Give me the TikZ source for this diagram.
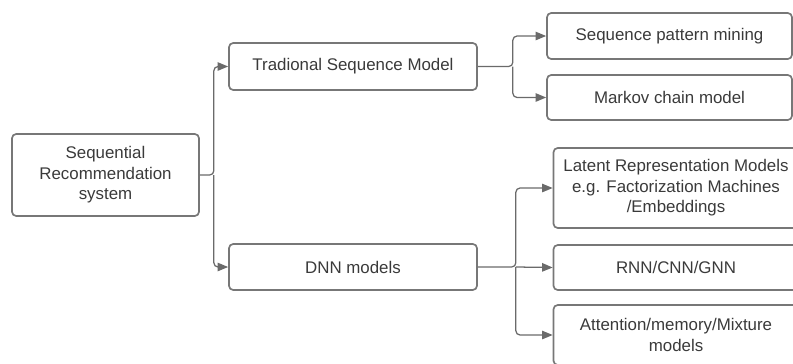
\documentclass[tikz,border=0pt]{standalone}
\usepackage{fontspec}
\setmainfont{Liberation Sans}
\usetikzlibrary{arrows.meta}
\definecolor{boxgray}{HTML}{777777}
\definecolor{linkgray}{HTML}{6A6A6A}
\definecolor{textgray}{HTML}{3A3A3A}
\tikzset{
  x=0.025cm, y=-0.025cm,
  box/.style={
    draw=boxgray, line width=1.2pt, rounded corners=3pt,
    inner sep=0pt, align=center, text=textgray,
    font=\fontsize{12}{14.6}\selectfont
  },
  link/.style={
    draw=linkgray, line width=0.9pt, rounded corners=3pt,
    -{Triangle[length=7.5pt,width=6pt]}
  }
}
\begin{document}
\begin{tikzpicture}
\clip (0,0) rectangle (793,363);
% the tree, left to right
\node[box, minimum width=187*0.025cm, minimum height=82*0.025cm] (root) at (105.5,175)
  {Sequential\\Recommendation\\system};
\node[box, minimum width=248*0.025cm, minimum height=47*0.025cm] (trad) at (353,66.5)
  {Tradional Sequence Model};
\node[box, minimum width=248*0.025cm, minimum height=46*0.025cm] (dnn) at (353,267)
  {DNN models};
% leaves under the traditional branch
\node[box, minimum width=245*0.025cm, minimum height=46*0.025cm] (mining) at (669.5,36)
  {Sequence pattern mining};
\node[box, minimum width=245*0.025cm, minimum height=45*0.025cm] (markov) at (669.5,97.5)
  {Markov chain model};
% leaves under the DNN branch, running off the right edge
\node[box, minimum width=245*0.025cm, minimum height=80*0.025cm] (latent) at (676,188)
  {Latent Representation Models\\e.g. Factorization Machines\\/Embeddings};
\node[box, minimum width=245*0.025cm, minimum height=45*0.025cm] (rnn) at (676,267.5)
  {RNN/CNN/GNN};
\node[box, minimum width=245*0.025cm, minimum height=60*0.025cm] (attn) at (676,335)
  {Attention/memory/Mixture\\models};
% connectors
\draw[link] (root.east) -- ++(14,0) coordinate (j1) |- (trad.west);
\draw[link] (j1) |- (dnn.west);
\draw[link] (trad.east) -- ++(35,0) coordinate (j2) |- (mining.west);
\draw[link] (j2) |- (markov.west);
\draw[link] (dnn.east) -- ++(38,0) coordinate (j3) |- (latent.west);
\draw[link] (j3) -- (rnn.west);
\draw[link] (j3) |- (attn.west);
\end{tikzpicture}
\end{document}
